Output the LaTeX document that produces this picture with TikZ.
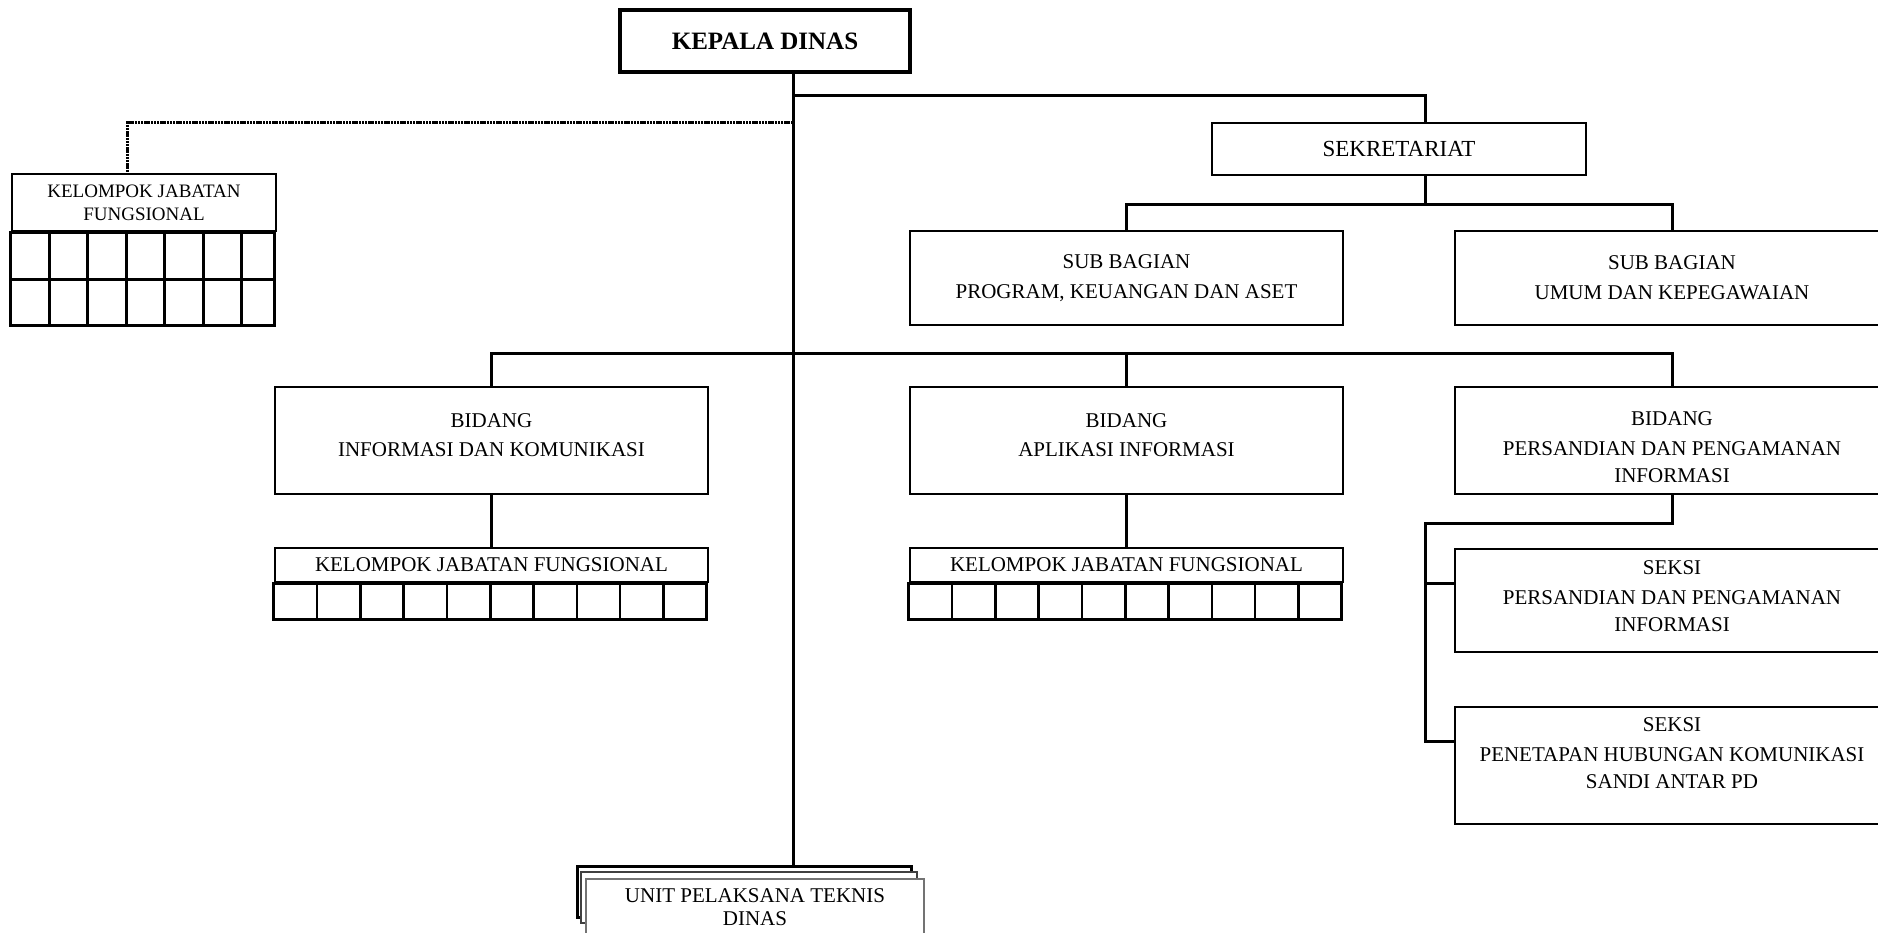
\documentclass[tikz,border=0pt]{standalone}
\usepackage{fontspec}
\setmainfont{Liberation Serif}
\begin{document}
\begin{tikzpicture}[x=0.5pt,y=-0.5pt,
  box/.style={draw, line width=1.3pt, inner sep=0pt, align=center, fill=white,
    font=\fontsize{10.5}{13.5}\selectfont},
  link/.style={line width=1.5pt},
  gridline/.style={line width=1.3pt},
  dotline/.style={line width=1.5pt, dash pattern=on 1.2pt off 0.4pt}]
\useasboundingbox (0,0) rectangle (1878,932);
\clip (0,0) rectangle (1878,932);

% Kepala Dinas
\node[box, line width=2.2pt, minimum width=145pt, minimum height=31pt,
  font=\bfseries\fontsize{12.5}{15}\selectfont] (kd) at (765,41) {KEPALA DINAS};
\coordinate (spine) at ([xshift=14pt]kd.south);

% Sekretariat and sub bagian
\node[box, minimum width=187pt, minimum height=26pt,
  font=\fontsize{11.5}{14}\selectfont] (sek) at (1399,149) {SEKRETARIAT};
\node[box, minimum width=216.5pt, minimum height=47pt] (sb1) at (1126.5,278)
  {SUB BAGIAN\\[1.5pt]PROGRAM, KEUANGAN DAN ASET};
\node[box, minimum width=217pt, minimum height=47pt] (sb2) at (1672,278)
  {SUB BAGIAN\\[1.5pt]UMUM DAN KEPEGAWAIAN};

% Bidang
\node[box, minimum width=216.5pt, minimum height=53.5pt] (b1) at (491.5,440.5)
  {BIDANG\\[1pt]INFORMASI DAN KOMUNIKASI\rule[-5pt]{0pt}{5pt}};
\node[box, minimum width=216.5pt, minimum height=53.5pt] (b2) at (1126.5,440.5)
  {BIDANG\\[1pt]APLIKASI INFORMASI\rule[-5pt]{0pt}{5pt}};
\node[box, minimum width=217pt, minimum height=53.5pt] (b3) at (1672,440.5)
  {\rule{0pt}{14pt}BIDANG\\[1.5pt]PERSANDIAN DAN PENGAMANAN\\INFORMASI};

% Seksi
\node[box, minimum width=217pt, minimum height=51.5pt] (s1) at (1672,600.5)
  {SEKSI\\[1.5pt]PERSANDIAN DAN PENGAMANAN\\INFORMASI\rule[-4pt]{0pt}{4pt}};
\node[box, minimum width=217pt, minimum height=58.5pt] (s2) at (1672,765.5)
  {SEKSI\\[1.5pt]PENETAPAN HUBUNGAN KOMUNIKASI\\SANDI ANTAR PD\rule[-12pt]{0pt}{12pt}};

% Kelompok jabatan fungsional (left, dotted)
\node[box, minimum width=132pt, minimum height=28.5pt,
  font=\fontsize{9.5}{11.5}\selectfont] (kjf0) at (144,202.5)
  {KELOMPOK JABATAN\\FUNGSIONAL};
\draw[gridline] (kjf0.south west) rectangle ++(264,93);
\draw[gridline] ([yshift=-23.5pt]kjf0.south west) -- ++(264,0);
\foreach \i in {1,...,6}
  \draw[gridline] ([xshift=\i*19.25pt]kjf0.south west) -- ++(0,93);

% Kelompok jabatan fungsional under bidang 1 and 2
\node[box, minimum width=216.5pt, minimum height=17pt] (kjf1) at (491.5,565)
  {KELOMPOK JABATAN FUNGSIONAL};
\draw[gridline] (kjf1.south west) rectangle ++(433,36);
\foreach \i in {1,...,9}
  \draw[gridline] ([xshift=\i*21.65pt]kjf1.south west) -- ++(0,36);
\node[box, minimum width=216.5pt, minimum height=17pt] (kjf2) at (1126.5,565)
  {KELOMPOK JABATAN FUNGSIONAL};
\draw[gridline] (kjf2.south west) rectangle ++(433,36);
\foreach \i in {1,...,9}
  \draw[gridline] ([xshift=\i*21.65pt]kjf2.south west) -- ++(0,36);

% UPT stacked boxes
\node[draw, line width=1.5pt, fill=white, minimum width=167pt, minimum height=25.5pt,
  inner sep=0pt] (upt3) at (744,891.5) {};
\node[draw=black!75, line width=0.8pt, fill=white, minimum width=168pt,
  minimum height=25.5pt, inner sep=0pt] (upt2) at (749,897.5) {};
\node[draw=black!55, line width=0.7pt, fill=white, minimum width=169pt,
  minimum height=28pt, inner sep=0pt, align=center,
  font=\fontsize{10.5}{11.5}\selectfont] (upt) at (755,907)
  {UNIT PELAKSANA TEKNIS\\DINAS};

% Connectors
\coordinate (k95) at (793,95);
\coordinate (k122) at (793,122);
\coordinate (bj) at (793,353);
\coordinate (sekin) at ([xshift=13pt]sek.north);
\coordinate (sekout) at ([xshift=13pt]sek.south);
\coordinate (sj) at (1425,204);
\coordinate (b3j) at (1425,523);
\coordinate (s1in) at ([yshift=8.5pt]s1.west);
\coordinate (s2in) at ([yshift=12pt]s2.west);

\draw[link] (spine) -- (spine |- upt3.north);
\draw[link] (k95) -| (sekin);
\draw[link] (sekout) -- (sj);
\draw[link] (sb1.north) |- (sj) -| (sb2.north);
\draw[link] (b1.north) |- (bj) -| (b3.north);
\draw[link] (b2.north) -- (b2.north |- bj);
\draw[link] (b1.south) -- (kjf1.north);
\draw[link] (b2.south) -- (kjf2.north);
\draw[link] (b3.south) |- (b3j) |- (s2in);
\draw[link] (b3j |- s1in) -- (s1in);
\draw[dotline] (k122) -| ([xshift=-8.5pt]kjf0.north);
\end{tikzpicture}
\end{document}
